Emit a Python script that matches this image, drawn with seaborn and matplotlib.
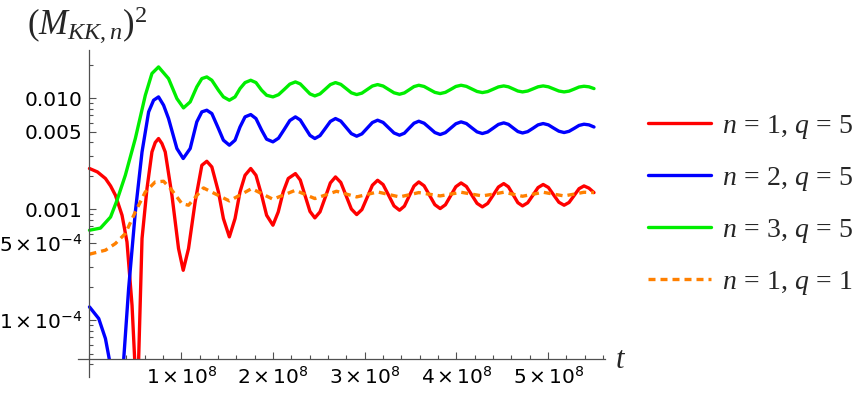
import numpy as np
import pandas as pd
import matplotlib
matplotlib.use('Agg')
import matplotlib.pyplot as plt
import seaborn as sns
from matplotlib.patches import Rectangle
from matplotlib.ticker import FixedLocator, LogLocator, MultipleLocator, NullFormatter

# time in units of 1e8, values as log10 of (M_KK,n)^2
red_t = [0, 0.087, 0.174, 0.230, 0.283, 0.355, 0.409, 0.464, 0.493, 0.515, 0.536,
         0.573, 0.627, 0.681, 0.717, 0.753, 0.790, 0.826, 0.899, 0.971, 1.022,
         1.080, 1.152, 1.225, 1.279, 1.334, 1.406, 1.460, 1.525, 1.587, 1.641,
         1.696, 1.758, 1.815, 1.877, 1.931, 2.000, 2.058, 2.112, 2.167, 2.245,
         2.298, 2.351, 2.404, 2.457, 2.513, 2.570, 2.626, 2.682, 2.740, 2.798,
         2.855, 2.913, 2.970, 3.027, 3.084, 3.141, 3.201, 3.261, 3.320, 3.380,
         3.433, 3.485, 3.538, 3.590, 3.648, 3.707, 3.765, 3.823, 3.880, 3.937,
         3.994, 4.051, 4.109, 4.167, 4.225, 4.283, 4.341, 4.400, 4.458, 4.516,
         4.567, 4.619, 4.670, 4.721, 4.777, 4.834, 4.890, 4.946, 5.003, 5.060,
         5.117, 5.174, 5.228, 5.283, 5.337, 5.391, 5.445, 5.500]
red_log = [-2.633, -2.664, -2.723, -2.790, -2.874, -3.054, -3.295, -3.865, -4.354, -6.5, -4.354,
           -3.264, -2.814, -2.484, -2.399, -2.363, -2.408, -2.484, -2.874, -3.354, -3.55,
           -3.354, -2.934, -2.604, -2.568, -2.619, -2.844, -3.084, -3.249, -3.084, -2.844,
           -2.694, -2.633, -2.694, -2.874, -3.054, -3.144, -3.024, -2.844, -2.723, -2.679,
           -2.737, -2.879, -3.020, -3.078, -3.024, -2.894, -2.763, -2.709, -2.759, -2.879,
           -2.998, -3.048, -3.003, -2.894, -2.784, -2.739, -2.778, -2.874, -2.970, -3.009,
           -2.972, -2.882, -2.791, -2.754, -2.789, -2.874, -2.959, -2.994, -2.960, -2.879,
           -2.797, -2.763, -2.795, -2.871, -2.947, -2.979, -2.948, -2.874, -2.800, -2.769,
           -2.798, -2.870, -2.941, -2.970, -2.942, -2.874, -2.805, -2.777, -2.804, -2.871,
           -2.937, -2.964, -2.939, -2.877, -2.815, -2.790, -2.810, -2.850]

blue_t = [0, 0.101, 0.174, 0.217, 0.290, 0.373, 0.427, 0.500, 0.573, 0.645,
          0.699, 0.753, 0.808, 0.862, 0.953, 1.022, 1.098, 1.170, 1.225, 1.279,
          1.334, 1.406, 1.460, 1.525, 1.587, 1.641, 1.696, 1.758, 1.815, 1.877,
          1.931, 2.000, 2.061, 2.123, 2.184, 2.245,
          2.298, 2.351, 2.404, 2.457, 2.513, 2.570, 2.626, 2.682, 2.740, 2.798,
          2.855, 2.913, 2.970, 3.027, 3.084, 3.141, 3.201, 3.261, 3.320, 3.380,
          3.433, 3.485, 3.538, 3.590, 3.648, 3.707, 3.765, 3.823, 3.880, 3.937,
          3.994, 4.051, 4.109, 4.167, 4.225, 4.283, 4.341, 4.400, 4.458, 4.516,
          4.567, 4.619, 4.670, 4.721, 4.777, 4.834, 4.890, 4.946, 5.003, 5.060,
          5.117, 5.174, 5.228, 5.283, 5.337, 5.391, 5.445, 5.500]
blue_log = [-3.880, -3.985, -4.165, -4.354, -6.5, -4.354, -3.714, -3.024, -2.484, -2.123,
            -2.018, -1.988, -2.063, -2.183, -2.453, -2.543, -2.453, -2.213, -2.123, -2.108,
            -2.138, -2.273, -2.378, -2.423, -2.378, -2.259, -2.168, -2.147, -2.183, -2.288,
            -2.369, -2.393, -2.360, -2.281, -2.201, -2.168,
            -2.196, -2.266, -2.335, -2.363, -2.337, -2.273, -2.209, -2.183, -2.206, -2.263,
            -2.319, -2.342, -2.321, -2.270, -2.219, -2.198, -2.218, -2.266, -2.313, -2.333,
            -2.315, -2.270, -2.225, -2.207, -2.225, -2.267, -2.309, -2.327, -2.310, -2.270,
            -2.230, -2.213, -2.228, -2.266, -2.303, -2.318, -2.304, -2.270, -2.236, -2.222,
            -2.235, -2.268, -2.300, -2.313, -2.301, -2.271, -2.240, -2.228, -2.240, -2.269,
            -2.297, -2.309, -2.298, -2.272, -2.245, -2.234, -2.240, -2.259]

green_t = [0, 0.120, 0.230, 0.300, 0.391, 0.500, 0.609, 0.681, 0.753, 0.862,
           0.953, 1.025, 1.098, 1.170, 1.225, 1.279, 1.334, 1.406, 1.460, 1.525,
           1.587, 1.641, 1.696, 1.758, 1.815, 1.877, 1.931, 2.000, 2.061, 2.123,
           2.184, 2.245,
           2.298, 2.351, 2.404, 2.457, 2.513, 2.570, 2.626, 2.682, 2.740, 2.798,
           2.855, 2.913, 2.970, 3.027, 3.084, 3.141, 3.201, 3.261, 3.320, 3.380,
           3.433, 3.485, 3.538, 3.590, 3.648, 3.707, 3.765, 3.823, 3.880, 3.937,
           3.994, 4.051, 4.109, 4.167, 4.225, 4.283, 4.341, 4.400, 4.458, 4.516,
           4.567, 4.619, 4.670, 4.721, 4.777, 4.834, 4.890, 4.946, 5.003, 5.060,
           5.117, 5.174, 5.228, 5.283, 5.337, 5.391, 5.445, 5.500]
green_log = [-3.189, -3.170, -3.070, -2.920, -2.694, -2.363, -1.973, -1.777, -1.718, -1.823,
             -2.003, -2.087, -2.033, -1.898, -1.823, -1.808, -1.838, -1.928, -1.988, -2.018,
             -1.988, -1.913, -1.859, -1.838, -1.859, -1.928, -1.973, -1.988, -1.968, -1.921,
             -1.873, -1.853,
             -1.871, -1.916, -1.961, -1.979, -1.961, -1.919, -1.877, -1.859, -1.875, -1.913,
             -1.951, -1.967, -1.954, -1.922, -1.890, -1.877, -1.890, -1.921, -1.951, -1.964,
             -1.952, -1.924, -1.895, -1.883, -1.894, -1.921, -1.947, -1.958, -1.947, -1.921,
             -1.894, -1.883, -1.893, -1.916, -1.939, -1.949, -1.940, -1.919, -1.898, -1.889,
             -1.897, -1.916, -1.935, -1.943, -1.935, -1.916, -1.897, -1.889, -1.897, -1.916,
             -1.935, -1.943, -1.936, -1.918, -1.899, -1.892, -1.897, -1.913]

orange_t = [0, 0.174, 0.283, 0.391, 0.500, 0.609, 0.717, 0.808, 0.899, 1.007,
            1.080, 1.160, 1.243, 1.384, 1.525, 1.646, 1.768, 1.884, 2.000, 2.123,
            2.245, 2.351, 2.457, 2.575, 2.693, 2.803, 2.913, 3.027, 3.141, 3.261,
            3.380, 3.485, 3.590, 3.707, 3.823, 3.937, 4.051, 4.167, 4.283, 4.400,
            4.516, 4.619, 4.721, 4.834, 4.946, 5.060, 5.174, 5.283, 5.391, 5.500]
orange_log = [-3.405, -3.369, -3.309, -3.219, -3.024, -2.844, -2.754, -2.748, -2.829, -2.949,
              -2.964, -2.886, -2.808, -2.867, -2.925, -2.870, -2.814, -2.862, -2.910, -2.870,
              -2.829, -2.867, -2.904, -2.871, -2.838, -2.864, -2.889, -2.867, -2.844, -2.867,
              -2.889, -2.870, -2.850, -2.865, -2.880, -2.864, -2.847, -2.864, -2.880, -2.864,
              -2.847, -2.865, -2.883, -2.865, -2.847, -2.864, -2.880, -2.864, -2.847, -2.850]

legend_labels = [r'$\mathit{n\,=\,1,\,q\,=\,5}$', r'$\mathit{n\,=\,2,\,q\,=\,5}$',
                 r'$\mathit{n\,=\,3,\,q\,=\,5}$', r'$\mathit{n\,=\,1,\,q\,=\,1}$']
colors = ['#ff0000', '#0000ff', '#00ee00', '#ff8000']

xtick_vals = [1e8, 2e8, 3e8, 4e8, 5e8]
xtick_labels = [r'$\mathsf{%d\times10^{8}}$' % k for k in range(1, 6)]
ytick_vals = [1e-4, 5e-4, 1e-3, 5e-3, 1e-2]
ytick_labels = [r'$\mathsf{1\times10^{-4}}$', r'$\mathsf{5\times10^{-4}}$',
                '0.001', '0.005', '0.010']

# plot range (with Mathematica-like padding) and where the axes cross
x_lo, x_hi = -0.125e8, 5.62e8
y_lo, y_hi = 3.08e-5, 0.0272
y_cross = 4.45e-5

sns.set_style('ticks')
plt.rcParams['font.family'] = ['DejaVu Sans']
plt.rcParams['mathtext.fontset'] = 'custom'
plt.rcParams['mathtext.rm'] = 'Liberation Serif'
plt.rcParams['mathtext.it'] = 'Liberation Serif:italic'
plt.rcParams['mathtext.bf'] = 'Liberation Serif:bold'
plt.rcParams['mathtext.sf'] = 'DejaVu Sans'
plt.rcParams['xtick.labelsize'] = 14.5
plt.rcParams['ytick.labelsize'] = 14.5

fig = plt.figure(figsize=(8.64, 3.97), dpi=100)
ax = fig.add_axes([78 / 864, 1 - 377 / 397, 527 / 864, 327 / 397])
ax.set_yscale('log')

series = [(red_t, red_log), (blue_t, blue_log), (green_t, green_log), (orange_t, orange_log)]
for (t, lg), color, label in zip(series, colors, legend_labels):
    df = pd.DataFrame({'t': np.array(t) * 1e8, 'm2': 10.0 ** np.array(lg)})
    ls = (0, (2.1, 1.5)) if color == '#ff8000' else '-'
    sns.lineplot(data=df, x='t', y='m2', ax=ax, color=color, linewidth=2.4,
                 linestyle=ls, label=label, sort=False, estimator=None)

ax.set_xlim(x_lo, x_hi)
ax.set_ylim(y_lo, y_hi)
ax.set_xlabel('')
ax.set_ylabel('')

# curves stop at the horizontal axis
clip = Rectangle((x_lo, y_cross), x_hi - x_lo, y_hi - y_cross, transform=ax.transData)
for line in ax.lines:
    line.set_clip_path(clip)

axis_color = '#505050'
ax.spines['left'].set_position(('data', 0))
ax.spines['bottom'].set_position(('data', y_cross))
ax.spines['top'].set_visible(False)
ax.spines['right'].set_visible(False)
for s in ['left', 'bottom']:
    ax.spines[s].set_color(axis_color)
    ax.spines[s].set_linewidth(0.9)

ax.xaxis.set_major_locator(FixedLocator(xtick_vals))
ax.set_xticklabels(xtick_labels, fontsize=14.5)
ax.xaxis.set_minor_locator(MultipleLocator(0.2e8))
ax.yaxis.set_major_locator(FixedLocator(ytick_vals))
ax.set_yticklabels(ytick_labels, fontsize=14.5)
ax.yaxis.set_minor_locator(LogLocator(base=10, subs=np.arange(2, 10)))
ax.yaxis.set_minor_formatter(NullFormatter())
ax.tick_params(which='both', direction='in', color=axis_color, width=0.8,
               labelcolor='black')
ax.tick_params(which='major', length=5, pad=5)
ax.tick_params(which='minor', length=3)

leg = ax.legend(loc='upper left', bbox_to_anchor=(648 / 864, 1 - 111 / 397),
                bbox_transform=fig.transFigure, frameon=False, fontsize=20,
                handlelength=2.25, handletextpad=0.42, labelspacing=0.79,
                borderpad=0, borderaxespad=0)

fig.text(87 / 864, 1 - 25 / 397, r'$(M_{KK,n})^{2}$', fontsize=25, ha='center', va='center')
fig.text(621 / 864, 1 - 359 / 397, r'$t$', fontsize=22, ha='center', va='center')

fig.savefig('out.png', dpi=100)
